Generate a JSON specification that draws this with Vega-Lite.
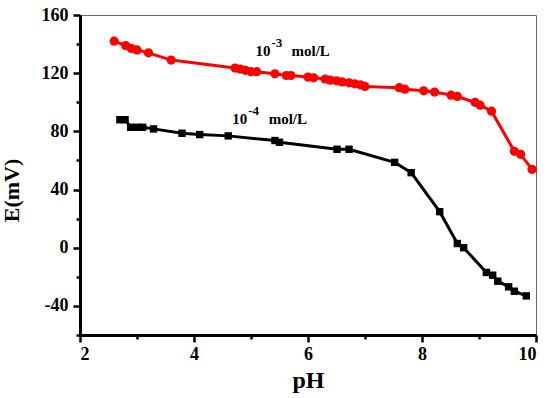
{
  "$schema": "https://vega.github.io/schema/vega-lite/v6.json",
  "width": 456,
  "height": 320,
  "autosize": {"type": "none"},
  "padding": {"left": 80, "top": 15, "right": 14, "bottom": 63},
  "background": "white",
  "config": {"view": {"stroke": "#666666", "strokeWidth": 1}, "font": "Liberation Serif"},
  "resolve": {"axis": {"x": "independent", "y": "independent"}},
  "datasets": {
    "curves": [
      {"series": "1e-3", "pH": 2.6, "E": 142},
      {"series": "1e-3", "pH": 2.8, "E": 139},
      {"series": "1e-3", "pH": 2.9, "E": 137},
      {"series": "1e-3", "pH": 3.0, "E": 136},
      {"series": "1e-3", "pH": 3.2, "E": 134},
      {"series": "1e-3", "pH": 3.6, "E": 129},
      {"series": "1e-3", "pH": 4.72, "E": 123.5},
      {"series": "1e-3", "pH": 4.81, "E": 122.8},
      {"series": "1e-3", "pH": 4.9, "E": 122},
      {"series": "1e-3", "pH": 5.0, "E": 121},
      {"series": "1e-3", "pH": 5.1, "E": 121},
      {"series": "1e-3", "pH": 5.42, "E": 119.6},
      {"series": "1e-3", "pH": 5.62, "E": 118.4},
      {"series": "1e-3", "pH": 5.7, "E": 118.4},
      {"series": "1e-3", "pH": 6.0, "E": 117.3},
      {"series": "1e-3", "pH": 6.1, "E": 116.8},
      {"series": "1e-3", "pH": 6.3, "E": 116},
      {"series": "1e-3", "pH": 6.39, "E": 115.2},
      {"series": "1e-3", "pH": 6.5, "E": 114.8},
      {"series": "1e-3", "pH": 6.6, "E": 114},
      {"series": "1e-3", "pH": 6.72, "E": 113.4},
      {"series": "1e-3", "pH": 6.82, "E": 112.7},
      {"series": "1e-3", "pH": 6.92, "E": 112},
      {"series": "1e-3", "pH": 7.0, "E": 110.9},
      {"series": "1e-3", "pH": 7.6, "E": 110},
      {"series": "1e-3", "pH": 7.7, "E": 109},
      {"series": "1e-3", "pH": 8.03, "E": 107.9},
      {"series": "1e-3", "pH": 8.22, "E": 107},
      {"series": "1e-3", "pH": 8.51, "E": 104.9},
      {"series": "1e-3", "pH": 8.62, "E": 104},
      {"series": "1e-3", "pH": 8.93, "E": 100},
      {"series": "1e-3", "pH": 9.02, "E": 98},
      {"series": "1e-3", "pH": 9.22, "E": 93.9},
      {"series": "1e-3", "pH": 9.62, "E": 66.3},
      {"series": "1e-3", "pH": 9.73, "E": 64.2},
      {"series": "1e-3", "pH": 9.93, "E": 53.9},
      {"series": "1e-4", "pH": 2.7, "E": 88},
      {"series": "1e-4", "pH": 2.79, "E": 88},
      {"series": "1e-4", "pH": 2.89, "E": 82.8},
      {"series": "1e-4", "pH": 3.0, "E": 82.8},
      {"series": "1e-4", "pH": 3.1, "E": 82.8},
      {"series": "1e-4", "pH": 3.29, "E": 81.7},
      {"series": "1e-4", "pH": 3.79, "E": 78.7},
      {"series": "1e-4", "pH": 4.1, "E": 77.8},
      {"series": "1e-4", "pH": 4.6, "E": 76.9},
      {"series": "1e-4", "pH": 5.42, "E": 73.7},
      {"series": "1e-4", "pH": 5.5, "E": 72.5},
      {"series": "1e-4", "pH": 6.51, "E": 67.7},
      {"series": "1e-4", "pH": 6.72, "E": 67.7},
      {"series": "1e-4", "pH": 7.52, "E": 58.7},
      {"series": "1e-4", "pH": 7.81, "E": 51.6},
      {"series": "1e-4", "pH": 8.31, "E": 24.8},
      {"series": "1e-4", "pH": 8.62, "E": 2.9},
      {"series": "1e-4", "pH": 8.73, "E": 0},
      {"series": "1e-4", "pH": 9.13, "E": -17},
      {"series": "1e-4", "pH": 9.24, "E": -18.9},
      {"series": "1e-4", "pH": 9.33, "E": -23},
      {"series": "1e-4", "pH": 9.52, "E": -26.9},
      {"series": "1e-4", "pH": 9.62, "E": -29.9},
      {"series": "1e-4", "pH": 9.83, "E": -33.1}
    ],
    "labels": [
      {"part": "base", "pH": 5.08, "E": 131.8, "text": "10"},
      {"part": "sup", "pH": 5.36, "E": 138, "text": "-3"},
      {"part": "unit", "pH": 5.71, "E": 131.8, "text": "mol/L"},
      {"part": "base", "pH": 4.67, "E": 85, "text": "10"},
      {"part": "sup", "pH": 4.95, "E": 91, "text": "-4"},
      {"part": "unit", "pH": 5.31, "E": 85, "text": "mol/L"}
    ]
  },
  "layer": [
    {
      "data": {"name": "curves"},
      "mark": {"type": "line", "strokeWidth": 3},
      "encoding": {
        "x": {
          "field": "pH", "type": "quantitative",
          "scale": {"domain": [2, 10], "nice": false, "zero": false},
          "axis": {
            "orient": "bottom",
            "values": [2, 4, 6, 8, 10],
            "labelExpr": "'' + datum.value",
            "grid": false,
            "domainColor": "black", "domainWidth": 3,
            "tickColor": "black", "tickWidth": 2.5, "tickSize": 7,
            "labelFont": "Liberation Serif", "labelFontWeight": "bold", "labelFontSize": 18, "labelColor": "black",
            "labelPadding": 3,
            "title": "pH", "titleFont": "Liberation Serif", "titleFontWeight": "bold", "titleFontSize": 24,
            "titleColor": "black", "titlePadding": 5
          }
        },
        "y": {
          "field": "E", "type": "quantitative",
          "scale": {"domain": [-60, 160], "nice": false, "zero": false},
          "axis": {
            "orient": "left",
            "values": [-40, 0, 40, 80, 120, 160],
            "labelExpr": "'' + datum.value",
            "grid": false,
            "domainColor": "black", "domainWidth": 3,
            "tickColor": "black", "tickWidth": 2.5, "tickSize": 7,
            "labelFont": "Liberation Serif", "labelFontWeight": "bold", "labelFontSize": 18, "labelColor": "black",
            "labelPadding": 5,
            "title": "E(mV)", "titleFont": "Liberation Serif", "titleFontWeight": "bold", "titleFontSize": 22,
            "titleColor": "black", "titleY": 175, "titleX": -57
          }
        },
        "color": {"field": "series", "type": "nominal", "scale": {"domain": ["1e-3", "1e-4"], "range": ["#ff0000", "#000000"]}, "legend": null}
      }
    },
    {
      "data": {"name": "curves"},
      "mark": {"type": "point", "filled": true, "opacity": 1},
      "encoding": {
        "x": {"field": "pH", "type": "quantitative",
          "axis": {"orient": "bottom", "values": [3, 5, 7, 9], "labels": false, "domain": false, "grid": false, "title": null,
            "tickColor": "black", "tickWidth": 2.5, "tickSize": 4}},
        "y": {"field": "E", "type": "quantitative",
          "axis": {"orient": "left", "values": [-60, -20, 20, 60, 100, 140], "labels": false, "domain": false, "grid": false, "title": null,
            "tickColor": "black", "tickWidth": 2.5, "tickSize": 4}},
        "color": {"field": "series", "type": "nominal", "legend": null},
        "shape": {"field": "series", "type": "nominal", "scale": {"domain": ["1e-3", "1e-4"], "range": ["circle", "square"]}, "legend": null},
        "size": {"field": "series", "type": "nominal", "scale": {"domain": ["1e-3", "1e-4"], "range": [85, 55]}, "legend": null}
      }
    },
    {
      "data": {"name": "labels"},
      "transform": [{"filter": "datum.part === 'base'"}],
      "mark": {"type": "text", "align": "left", "baseline": "alphabetic", "font": "Liberation Serif", "fontWeight": "bold", "fontSize": 15, "color": "black"},
      "encoding": {"x": {"field": "pH", "type": "quantitative", "axis": null}, "y": {"field": "E", "type": "quantitative", "axis": null}, "text": {"field": "text"}}
    },
    {
      "data": {"name": "labels"},
      "transform": [{"filter": "datum.part === 'sup'"}],
      "mark": {"type": "text", "align": "left", "baseline": "alphabetic", "font": "Liberation Serif", "fontWeight": "bold", "fontSize": 13, "color": "black"},
      "encoding": {"x": {"field": "pH", "type": "quantitative", "axis": null}, "y": {"field": "E", "type": "quantitative", "axis": null}, "text": {"field": "text"}}
    },
    {
      "data": {"name": "labels"},
      "transform": [{"filter": "datum.part === 'unit'"}],
      "mark": {"type": "text", "align": "left", "baseline": "alphabetic", "font": "Liberation Serif", "fontWeight": "bold", "fontSize": 15, "color": "black"},
      "encoding": {"x": {"field": "pH", "type": "quantitative", "axis": null}, "y": {"field": "E", "type": "quantitative", "axis": null}, "text": {"field": "text"}}
    }
  ]
}
